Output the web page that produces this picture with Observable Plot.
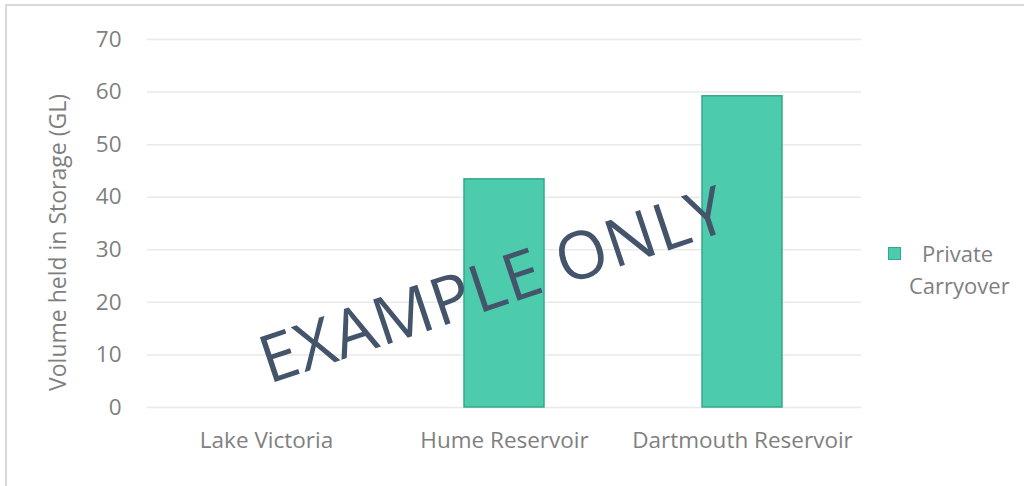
<!DOCTYPE html>
<html>
<head>
<meta charset="utf-8">
<script src="https://cdn.jsdelivr.net/npm/d3@7"></script>
<script src="https://cdn.jsdelivr.net/npm/@observablehq/plot@0.6"></script>
<style>
  html, body { margin: 0; padding: 0; background: #fff; }
  #wrap { position: relative; width: 1024px; height: 486px; overflow: hidden; font-family: "Open Sans", sans-serif; }
  #frame { position: absolute; left: 5px; top: 4px; width: 1100px; height: 600px; border-top: 2px solid #d9d9d9; border-left: 2px solid #d9d9d9; box-sizing: border-box; }
  #chart { position: absolute; left: 0; top: 0; }
  #legend { position: absolute; left: 888px; top: 242px; color: #7f7f7f; font-size: 22px; }
  #legend .sw { position: absolute; left: 0; top: 5px; width: 11px; height: 11px; background: #4ccbad; border: 1.5px solid #36a88b; }
  #legend .t1 { position: absolute; left: 34px; top: -3px; white-space: nowrap; line-height: 28px; }
  #legend .t2 { position: absolute; left: 21px; top: 29px; white-space: nowrap; line-height: 28px; }
  #wm { position: absolute; left: 492px; top: 282px; transform: translate(-50%, -50%) rotate(-18.5deg); color: #44546a; font-size: 66px; white-space: nowrap; font-weight: 400; letter-spacing: 1px; }
</style>
</head>
<body>
<div id="wrap">
  <div id="frame"></div>
  <div id="chart"></div>
  <div id="legend"><div class="sw"></div><div class="t1">Private</div><div class="t2">Carryover</div></div>
  <div id="wm">EXAMPLE ONLY</div>
</div>
<script>
const categories = ["Lake Victoria", "Hume Reservoir", "Dartmouth Reservoir"];
const values = [0, 43.4, 59.2];
const yTicks = [0, 10, 20, 30, 40, 50, 60, 70];
const seriesName = "Private Carryover";
const yLabel = "Volume held in Storage (GL)";

const data = categories.map((c, i) => ({category: c, value: values[i], series: seriesName}));

const chart = Plot.plot({
  width: 1024,
  height: 486,
  marginLeft: 147,
  marginRight: 163,
  marginTop: 39,
  marginBottom: 79,
  style: {fontFamily: "Open Sans, sans-serif", fontSize: "22px", color: "#7f7f7f", background: "transparent"},
  x: {domain: categories, paddingInner: 0.664, paddingOuter: 0.332, label: null},
  y: {domain: [0, 70], ticks: yTicks, label: null},
  marks: [
    Plot.ruleY(yTicks, {stroke: "#e9e9e9", strokeWidth: 1.5}),
    Plot.barY(data, {x: "category", y: "value", fill: "#4ccbad", stroke: "#36a88b", strokeWidth: 1.5}),
    Plot.axisY({ticks: yTicks, tickSize: 0, tickPadding: 26, label: null, fill: "#7f7f7f", fontSize: 22.5}),
    Plot.axisX({tickSize: 0, tickPadding: 25, label: null, fill: "#7f7f7f", fontSize: 22.5}),
    Plot.text([yLabel], {frameAnchor: "left", textAnchor: "middle", rotate: -90, dx: -89, dy: 19, fill: "#7f7f7f", fontSize: 23})
  ]
});
document.getElementById("chart").appendChild(chart);
</script>
</body>
</html>
